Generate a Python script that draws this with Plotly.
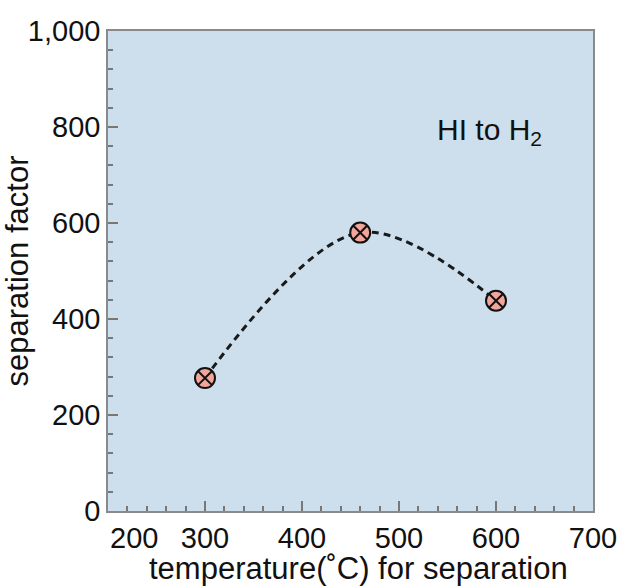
import plotly.graph_objects as go

temps = [300, 460, 600]
sep_factor = [277, 580, 438]
x_ticks = [300, 400, 500, 600, 700]
y_ticks = [0, 200, 400, 600, 800, 1000]

FONT = "Liberation Sans, Arial, sans-serif"

fig = go.Figure()
fig.add_trace(go.Scatter(
    x=temps, y=sep_factor, mode="lines",
    line=dict(shape="spline", smoothing=1.0, color="#1a1a1a", width=3, dash="7px,5px"),
    hoverinfo="skip", showlegend=False))
fig.add_trace(go.Scatter(
    x=temps, y=sep_factor, mode="markers",
    marker=dict(symbol="circle-x", size=20, color="#f2a59b",
                line=dict(color="#111111", width=2)),
    showlegend=False))

fig.add_annotation(x=593, y=790, xref="x", yref="y", showarrow=False,
                   text="HI to H<sub>2</sub>", font=dict(family=FONT, size=30, color="#111"))
fig.add_annotation(x=200, y=0, xref="x", yref="y", showarrow=False,
                   text="200", xanchor="left", yanchor="top", xshift=0, yshift=-9,
                   font=dict(family=FONT, size=29, color="#111"))
fig.add_annotation(x=0.5, y=0, xref="paper", yref="paper", showarrow=False,
                   text="temperature(˚C) for separation", xanchor="center", yanchor="top",
                   xshift=8, yshift=-38,
                   font=dict(family=FONT, size=31, color="#111"))

axis_common = dict(showgrid=False, zeroline=False, showline=True, linecolor="#8a8a8a",
                   linewidth=1.5, mirror=True, ticks="inside", tickcolor="#777",
                   tickwidth=1.5, ticklen=10, automargin=False,
                   tickfont=dict(family=FONT, size=29, color="#111"))

fig.update_xaxes(range=[200, 700], tickvals=x_ticks, **axis_common,
                 minor=dict(dtick=20, tick0=200, ticks="inside", ticklen=5, tickcolor="#777"))
fig.update_yaxes(range=[0, 1000], tickvals=y_ticks, tickformat=",d", **axis_common,
                 minor=dict(dtick=40, tick0=0, ticks="inside", ticklen=5, tickcolor="#777"),
                 title=dict(text="separation factor",
                            font=dict(family=FONT, size=31, color="#111"), standoff=8))

fig.update_layout(width=619, height=587, margin=dict(l=108, r=26, t=31, b=76),
                  plot_bgcolor="#cddfec", paper_bgcolor="white")

fig.write_html("out.html", config={"displayModeBar": False},
               post_script="document.body.style.margin='0';document.body.style.overflow='hidden';")
